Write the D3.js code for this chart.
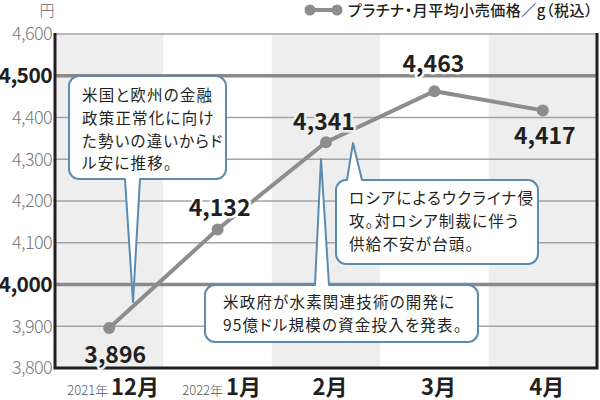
<!DOCTYPE html>
<html>
<head>
<meta charset="utf-8">
<script src="https://cdn.jsdelivr.net/npm/d3@7"></script>
<style>
body{margin:0;background:#fff;}
svg{display:block;font-family:"Noto Sans CJK JP","Noto Sans",sans-serif;}
.palt{font-feature-settings:"palt";}
</style>
</head>
<body>
<script>
// chart values
var months = ["12月","1月","2月","3月","4月"];
var yearTags = ["2021年","2022年","","",""];
var prices = [3896,4132,4341,4463,4417];
var yTicks = [3800,3900,4000,4100,4200,4300,4400,4500,4600];
var strongTicks = [4000,4500];
var unitLabel = "円";
var legendLabel = "プラチナ・月平均小売価格／g（税込）";
var noteTexts = [
    ["米国と欧州の金融","政策正常化に向け","た勢いの違いからド","ル安に推移。"],
    ["ロシアによるウクライナ侵","攻。対ロシア制裁に伴う","供給不安が台頭。"],
    ["米政府が水素関連技術の開発に","95億ドル規模の資金投入を発表。"]
];

var W = 600, H = 400;
var plotL = 55, plotR = 597, plotT = 34, plotB = 368;
var ink = "#231f20", lineGray = "#8d8d8d", bandGray = "#eeeeee", blue = "#5b8bb0";

var svg = d3.select("body").append("svg")
    .attr("width", W)
    .attr("height", H);

var x = d3.scaleBand().domain(months).range([plotL, plotR]);
var y = d3.scaleLinear().domain([3800,4600]).range([plotB, plotT]);

function bandFill(i){ return i % 2 == 0 ? bandGray : "#ffffff"; }
function isStrong(d){ return strongTicks.indexOf(d) >= 0; }

//column bands
svg.selectAll("rect.band")
    .data(months)
    .enter()
    .append("rect")
    .attr("x", function(d){return x(d);})
    .attr("y", plotT)
    .attr("width", x.bandwidth())
    .attr("height", plotB - plotT)
    .style("fill", function(d,i){return bandFill(i);});

//gridlines
svg.selectAll("line.grid")
    .data(yTicks.slice(1))
    .enter()
    .append("line")
    .attr("x1", plotL).attr("x2", plotR)
    .attr("y1", function(d){return y(d);})
    .attr("y2", function(d){return y(d);})
    .style("stroke", function(d){return isStrong(d) ? "#8a8a8a" : "#a3a3a3";})
    .style("stroke-width", function(d){return isStrong(d) ? 3.5 : 1.6;});

//frame: left, bottom, right
svg.append("path")
    .attr("d", "M" + plotL + "," + (plotT - 1) + "V" + plotB + "H" + plotR + "V" + (plotT - 1))
    .style("fill", "none")
    .style("stroke", ink)
    .style("stroke-width", 3);

//y tick labels
svg.selectAll("text.ytick")
    .data(yTicks)
    .enter()
    .append("text")
    .attr("x", 52)
    .attr("y", function(d){return y(d);})
    .attr("dy", "0.36em")
    .attr("text-anchor", "end")
    .style("font-size", function(d){return isStrong(d) ? "21px" : "18px";})
    .style("font-weight", function(d){return isStrong(d) ? 700 : 300;})
    .style("fill", function(d){return isStrong(d) ? ink : "#7a7a7a";})
    .style("letter-spacing", "-0.6px")
    .text(function(d){return d3.format(",")(d);});

svg.append("text")
    .attr("x", 47).attr("y", 16)
    .attr("text-anchor", "middle")
    .style("font-size", "15px")
    .style("font-weight", 300)
    .style("fill", "#6a6a6a")
    .text(unitLabel);

//x labels
var xl = svg.selectAll("text.xlab")
    .data(months)
    .enter()
    .append("text")
    .attr("x", function(d){return x(d) + x.bandwidth()/2 + 4;})
    .attr("y", 395)
    .attr("text-anchor", "middle");
xl.append("tspan")
    .style("font-size", "13px")
    .style("font-weight", 300)
    .style("fill", "#555")
    .text(function(d,i){return yearTags[i] ? yearTags[i] + " " : "";});
xl.append("tspan")
    .style("font-size", "22px")
    .style("font-weight", 700)
    .style("fill", ink)
    .text(function(d){return d;});

//price line
var pts = months.map(function(m,i){return [x(m) + x.bandwidth()/2, y(prices[i])];});
svg.append("path")
    .attr("d", d3.line()(pts))
    .style("fill", "none")
    .style("stroke", lineGray)
    .style("stroke-width", 4);
svg.selectAll("circle.pt")
    .data(pts)
    .enter()
    .append("circle")
    .attr("cx", function(d){return d[0];})
    .attr("cy", function(d){return d[1];})
    .attr("r", 6)
    .style("fill", lineGray);

//callouts
var boxes = [
    {x0:69, y0:76, x1:226, y1:179, side:"bottom", b0:125, b1:140, tx:133, ty:302, tl:82, bl:101},
    {x0:336, y0:180, x1:538, y1:264, side:"top", b0:347, b1:362, tx:353, ty:143, tl:349, bl:204},
    {x0:205, y0:285, x1:478, y1:342, side:"top", b0:315, b1:329, tx:321, ty:159, tl:223, bl:308}
];
function bubble(b){
    var r = 10, p = d3.path();
    p.moveTo(b.x0 + r, b.y0);
    if(b.side == "top"){ p.lineTo(b.b0, b.y0); p.lineTo(b.tx, b.ty); p.lineTo(b.b1, b.y0); }
    p.lineTo(b.x1 - r, b.y0); p.arcTo(b.x1, b.y0, b.x1, b.y0 + r, r);
    p.lineTo(b.x1, b.y1 - r); p.arcTo(b.x1, b.y1, b.x1 - r, b.y1, r);
    if(b.side == "bottom"){ p.lineTo(b.b1, b.y1); p.lineTo(b.tx, b.ty); p.lineTo(b.b0, b.y1); }
    p.lineTo(b.x0 + r, b.y1); p.arcTo(b.x0, b.y1, b.x0, b.y1 - r, r);
    p.lineTo(b.x0, b.y0 + r); p.arcTo(b.x0, b.y0, b.x0 + r, b.y0, r);
    p.closePath();
    return p.toString();
}
svg.selectAll("path.bubble")
    .data(boxes)
    .enter()
    .append("path")
    .attr("d", bubble)
    .style("fill", "#fff")
    .style("stroke", blue)
    .style("stroke-width", 2)
    .style("stroke-linejoin", "round");

boxes.forEach(function(b, k){
    svg.append("text")
        .attr("class", "palt")
        .attr("x", b.tl)
        .attr("y", b.bl)
        .style("font-size", "15.5px")
        .style("letter-spacing", "1.2px")
        .style("fill", ink)
        .selectAll("tspan")
        .data(noteTexts[k])
        .enter()
        .append("tspan")
        .attr("x", b.tl)
        .attr("dy", function(d,i){return i == 0 ? 0 : 22.8;})
        .text(function(d){return d;});
});

//value labels
var labDx = [6, 2, -2, -1, 2];
var labDy = [35, -13, -12, -19, 34];
svg.selectAll("text.val")
    .data(prices)
    .enter()
    .append("text")
    .attr("x", function(d,i){return pts[i][0] + labDx[i];})
    .attr("y", function(d,i){return pts[i][1] + labDy[i];})
    .attr("text-anchor", "middle")
    .style("font-size", "23px")
    .style("font-weight", 700)
    .style("fill", ink)
    .style("stroke", function(d,i){return bandFill(i);})
    .style("stroke-width", 5)
    .style("paint-order", "stroke")
    .style("stroke-linejoin", "round")
    .text(function(d){return d3.format(",")(d);});

//legend
var lg = svg.append("g");
lg.append("line")
    .attr("x1", 310).attr("x2", 337)
    .attr("y1", 10).attr("y2", 10)
    .style("stroke", lineGray)
    .style("stroke-width", 4);
lg.selectAll("circle")
    .data([310, 337])
    .enter()
    .append("circle")
    .attr("cx", function(d){return d;})
    .attr("cy", 10)
    .attr("r", 5.5)
    .style("fill", lineGray);
lg.append("text")
    .attr("class", "palt")
    .attr("x", 348)
    .attr("y", 16)
    .style("font-size", "15px")
    .style("font-weight", 500)
    .style("letter-spacing", "0.5px")
    .style("fill", ink)
    .text(legendLabel);
</script>
</body>
</html>
